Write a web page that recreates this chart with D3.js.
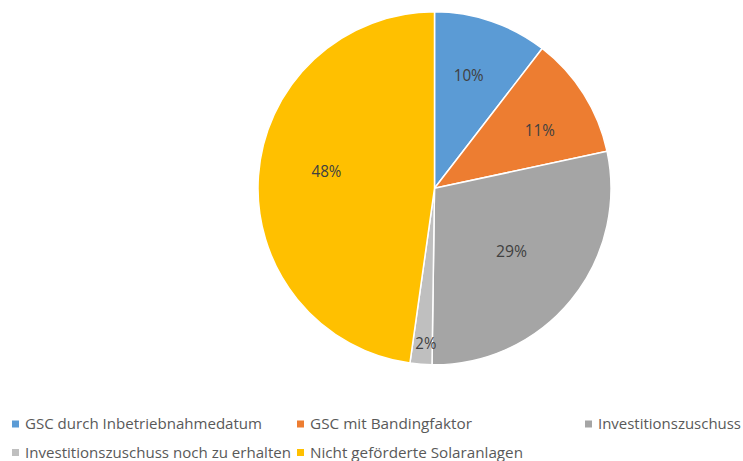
<!DOCTYPE html>
<html><head><meta charset="utf-8">
<script src="https://cdn.jsdelivr.net/npm/d3@7"></script>
<style>html,body{margin:0;padding:0;background:#fff;}svg{display:block;}</style>
</head><body>
<script>
const categories = ["GSC durch Inbetriebnahmedatum","GSC mit Bandingfaktor","Investitionszuschuss","Investitionszuschuss noch zu erhalten","Nicht geförderte Solaranlagen"];
const values = [10.45, 11.2, 28.6, 2.0, 47.8];
const labels = ["10%","11%","29%","2%","48%"];
const colors = ["#5B9BD5","#ED7D31","#A5A5A5","#BFBFBF","#FFC000"];
// label placement (radius fraction, angle offset in degrees)
const labelRadius = [0.67, 0.68, 0.565, 0.88, 0.62];
const labelAngleOff = [-2, 3.5, 0, -1.2, 5];

const W = 743, H = 461;
const cx = 434.5, cy = 188.3, R = 176.5;
const svg = d3.select("body").append("svg").attr("width", W).attr("height", H);
const font = "'Open Sans', sans-serif";

const pie = d3.pie().sort(null).value(d => d)(values);
const arc = d3.arc().innerRadius(0).outerRadius(R);
const g = svg.append("g").attr("transform", `translate(${cx},${cy})`);
g.selectAll("path").data(pie).join("path")
  .attr("d", arc).attr("fill", (d,i) => colors[i])
  .attr("stroke", "#fff").attr("stroke-width", 1.5).attr("stroke-linejoin","round");

g.selectAll("text").data(pie).join("text")
  .attr("x", (d,i) => { const a = (d.startAngle + d.endAngle)/2 + labelAngleOff[i]*Math.PI/180; return Math.sin(a)*R*labelRadius[i]; })
  .attr("y", (d,i) => { const a = (d.startAngle + d.endAngle)/2 + labelAngleOff[i]*Math.PI/180; return -Math.cos(a)*R*labelRadius[i]; })
  .attr("dy", "0.35em").attr("text-anchor","middle")
  .attr("font-family", font).attr("font-size", 16).attr("fill", "#404040")
  .attr("textLength", (d,i) => [30, 30, 31, 21, 30][i]).attr("lengthAdjust","spacingAndGlyphs")
  .text((d,i) => labels[i]);

// legend
const legX = [12, 297, 585, 12, 297];
const legY = [424, 424, 424, 452.5, 452.5];
const leg = svg.append("g");
categories.forEach((c,i) => {
  leg.append("rect").attr("x", legX[i]).attr("y", legY[i]-3.5).attr("width", 7).attr("height", 7).attr("fill", colors[i]);
  leg.append("text").attr("x", legX[i]+13).attr("y", legY[i]).attr("dy","0.35em")
    .attr("font-family", font).attr("font-size", 15).attr("fill", "#595959")
    .attr("textLength", [237, 162, 143, 266, 213][i]).attr("lengthAdjust","spacingAndGlyphs")
    .text(c);
});
</script>
</body></html>
